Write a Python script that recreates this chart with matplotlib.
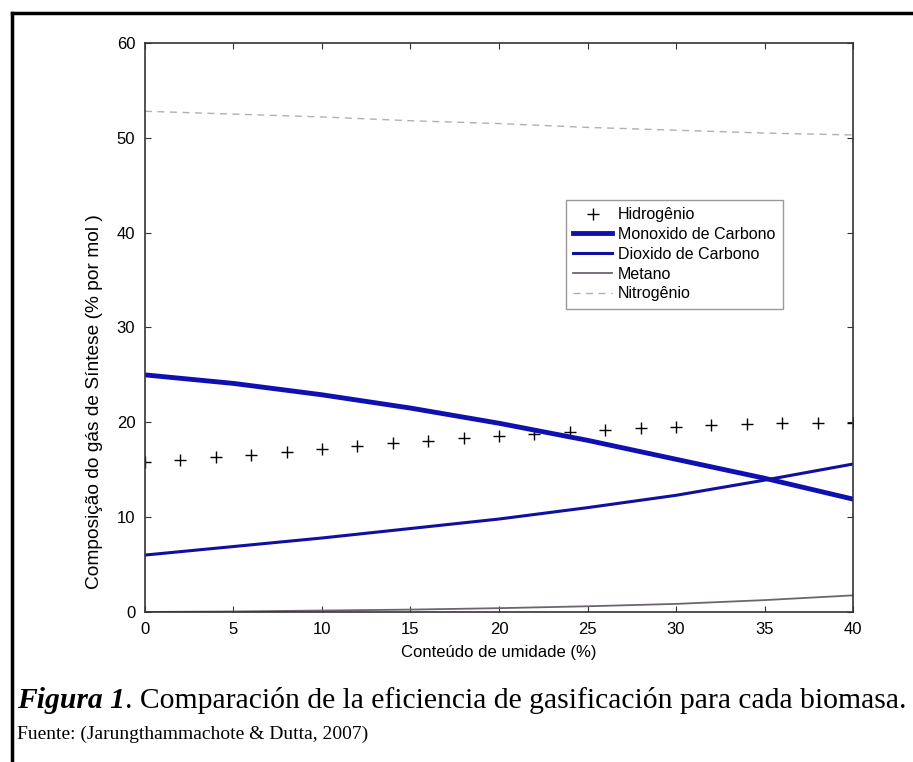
import numpy as np
import matplotlib
matplotlib.use("Agg")
import matplotlib.pyplot as plt
from matplotlib.lines import Line2D

# dados
umidade_h2 = [0, 2, 4, 6, 8, 10, 12, 14, 16, 18, 20, 22, 24, 26, 28, 30, 32, 34, 36, 38, 40]
hidrogenio = [15.8, 16.0, 16.3, 16.6, 16.9, 17.2, 17.5, 17.8, 18.0, 18.3, 18.6, 18.8, 19.0, 19.2,
              19.4, 19.5, 19.7, 19.8, 19.9, 19.9, 19.9]

umidade = [0, 5, 10, 15, 20, 25, 30, 35, 40]
monoxido = [25.0, 24.1, 22.9, 21.5, 19.9, 18.1, 16.1, 14.1, 11.9]
dioxido = [6.0, 6.9, 7.8, 8.8, 9.8, 11.0, 12.3, 13.9, 15.6]
metano = [0.0, 0.05, 0.15, 0.25, 0.4, 0.6, 0.85, 1.25, 1.75]
nitrogenio = [52.8, 52.5, 52.2, 51.8, 51.5, 51.1, 50.8, 50.5, 50.3]

xticks = [0, 5, 10, 15, 20, 25, 30, 35, 40]
yticks = [0, 10, 20, 30, 40, 50, 60]

plt.rcParams['font.family'] = ['Liberation Sans', 'DejaVu Sans']

fig = plt.figure(figsize=(9.13, 7.62), dpi=100)
ax = fig.add_axes([0.1588, 0.1969, 0.7755, 0.7467])

ax.plot(umidade_h2, hidrogenio, linestyle='none', marker='+', markersize=9,
        markeredgewidth=1.0, color='black', label='Hidrogênio')
ax.plot(umidade, monoxido, linewidth=3.5, color='#1010b0', label='Monoxido de Carbono')
ax.plot(umidade, dioxido, linewidth=2.2, color='#1010a0', label='Dioxido de Carbono')
ax.plot(umidade, metano, linewidth=1.3, color='#6e6470', label='Metano')
ax.plot(umidade, nitrogenio, linewidth=1.0, color='#b0b0b0', linestyle=(0, (5, 4)),
        label='Nitrogênio')

ax.set_xlim(0, 40)
ax.set_ylim(0, 60)
ax.set_xticks(xticks)
ax.set_yticks(yticks)
ax.tick_params(direction='in', top=True, right=True, length=4, labelsize=12,
               color='#333333', pad=7)
for s in ax.spines.values():
    s.set_linewidth(1.2)
    s.set_color('#333333')

ax.set_xlabel('Conteúdo de umidade (%)', fontsize=12, labelpad=6)
ax.set_ylabel('Composição do gás de Síntese (% por mol )', fontsize=13.8)
ax.yaxis.set_label_coords(-0.059, 0.37)

leg = ax.legend(loc='upper left', bbox_to_anchor=(0.595, 0.724), fontsize=11.5,
                frameon=True, fancybox=False, handlelength=2.4, labelspacing=0.3,
                borderpad=0.45, handletextpad=0.4, borderaxespad=0)
leg.get_frame().set_edgecolor('#808080')
leg.get_frame().set_linewidth(1.0)

# moldura externa (so esquerda e topo)
fig.add_artist(Line2D([12 / 913, 12 / 913], [0, 1 - 13 / 762], color='black', linewidth=2.5,
                      transform=fig.transFigure))
fig.add_artist(Line2D([12 / 913, 1], [1 - 13 / 762, 1 - 13 / 762], color='black', linewidth=2.5,
                      transform=fig.transFigure))

cap = fig.text(17 / 913, 1 - 700 / 762, 'Figura 1', fontsize=21.3, fontstyle='italic',
               fontweight='bold', family='Liberation Serif', va='center', ha='left')
fig.canvas.draw()
bb = cap.get_window_extent()
fig.text(bb.x1 / 913, 1 - 700 / 762,
         '. Comparación de la eficiencia de gasificación para cada biomasa.',
         fontsize=21.3, family='Liberation Serif', va='center', ha='left')
fig.text(17 / 913, 1 - 734 / 762, 'Fuente: (Jarungthammachote & Dutta, 2007)', fontsize=14,
         family='Liberation Serif', va='center', ha='left')

fig.savefig('out.png', dpi=100)
